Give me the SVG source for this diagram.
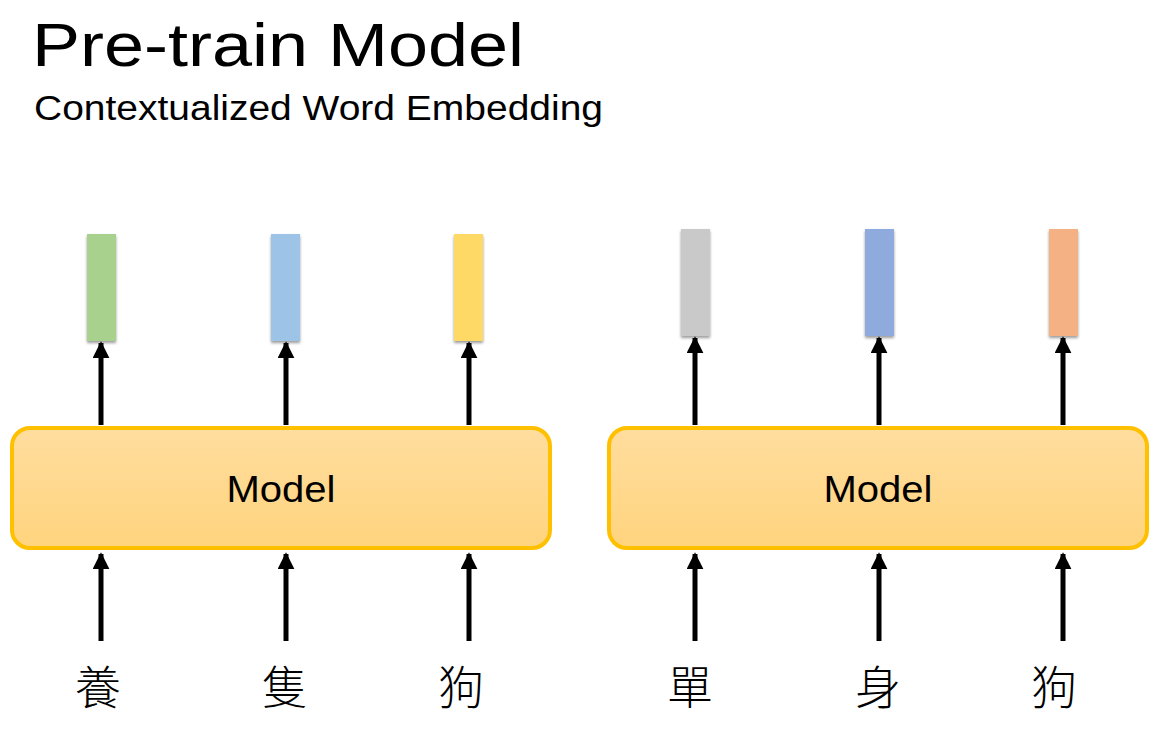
<svg xmlns="http://www.w3.org/2000/svg" width="1161" height="743" viewBox="0 0 1161 743">
<style>
.title{font-family:"Liberation Sans","Open Sans",sans-serif;fill:#000}
.model{font-family:"Liberation Sans","Open Sans",sans-serif;font-size:37px;fill:#000;text-anchor:middle}
.zh{font-family:"Noto Sans CJK TC","Noto Sans CJK SC",sans-serif;font-size:46px;font-weight:300;fill:#000;text-anchor:middle}
.box{stroke:#FFC000;stroke-width:4;fill:url(#g)}
.conn{stroke:#000;stroke-width:5;fill:none;marker-end:url(#ah)}
.vec{filter:url(#sh)}
</style>
<defs>
<linearGradient id="g" x1="0" y1="0" x2="0" y2="1">
<stop offset="0" stop-color="#FFDD9E"/>
<stop offset="1" stop-color="#FFD47E"/>
</linearGradient>
<marker id="ah" viewBox="0 0 10 10" refX="9" refY="5" markerWidth="3.4" markerHeight="3.4" orient="auto" markerUnits="strokeWidth">
<path d="M0,0 L10,5 L0,10 z" fill="#000"/>
</marker>
<filter id="sh" x="-30%" y="-10%" width="160%" height="125%">
<feGaussianBlur in="SourceAlpha" stdDeviation="1.5"/>
<feOffset dx="0" dy="2" result="b"/>
<feComponentTransfer><feFuncA type="linear" slope="0.4"/></feComponentTransfer>
<feMerge><feMergeNode/><feMergeNode in="SourceGraphic"/></feMerge>
</filter>
</defs>
<rect width="1161" height="743" fill="#fff"/>
<text class="title" x="32" y="66" font-size="62" textLength="492" lengthAdjust="spacingAndGlyphs">Pre-train Model</text>
<text class="title" x="34" y="120" font-size="35" textLength="569" lengthAdjust="spacingAndGlyphs">Contextualized Word Embedding</text>

<g id="model-left"><rect class="box" x="12" y="428" width="538" height="120" rx="18"/><text class="model" x="281" y="502" textLength="109" lengthAdjust="spacingAndGlyphs">Model</text></g>
<g id="model-right"><rect class="box" x="609" y="428" width="538" height="120" rx="18"/><text class="model" x="878" y="502" textLength="109" lengthAdjust="spacingAndGlyphs">Model</text></g>

<g id="vec-l1"><rect class="vec" x="87" y="234" width="29" height="107" fill="#A9D18E"/></g>
<g id="vec-l2"><rect class="vec" x="271" y="234" width="29" height="107" fill="#9DC3E6"/></g>
<g id="vec-l3"><rect class="vec" x="454" y="234" width="29" height="107" fill="#FFD966"/></g>
<g id="vec-r1"><rect class="vec" x="681" y="229" width="29" height="107" fill="#C9C9C9"/></g>
<g id="vec-r2"><rect class="vec" x="865" y="229" width="29" height="107" fill="#8FAADC"/></g>
<g id="vec-r3"><rect class="vec" x="1049" y="229" width="29" height="107" fill="#F4B183"/></g>

<g id="word-l1"><text class="zh" x="98" y="704">養</text></g>
<g id="word-l2"><text class="zh" x="285" y="704">隻</text></g>
<g id="word-l3"><text class="zh" x="461" y="704">狗</text></g>
<g id="word-r1"><text class="zh" x="690" y="704">單</text></g>
<g id="word-r2"><text class="zh" x="878" y="704">身</text></g>
<g id="word-r3"><text class="zh" x="1054" y="704">狗</text></g>

<g id="connectors">
<line class="conn" x1="101" y1="425" x2="101" y2="343"/>
<line class="conn" x1="286" y1="425" x2="286" y2="343"/>
<line class="conn" x1="469" y1="425" x2="469" y2="343"/>
<line class="conn" x1="695" y1="425" x2="695" y2="338"/>
<line class="conn" x1="879" y1="425" x2="879" y2="338"/>
<line class="conn" x1="1063" y1="425" x2="1063" y2="338"/>
<line class="conn" x1="101" y1="641" x2="101" y2="554"/>
<line class="conn" x1="286" y1="641" x2="286" y2="554"/>
<line class="conn" x1="469" y1="641" x2="469" y2="554"/>
<line class="conn" x1="695" y1="641" x2="695" y2="554"/>
<line class="conn" x1="879" y1="641" x2="879" y2="554"/>
<line class="conn" x1="1063" y1="641" x2="1063" y2="554"/>
</g>
</svg>
